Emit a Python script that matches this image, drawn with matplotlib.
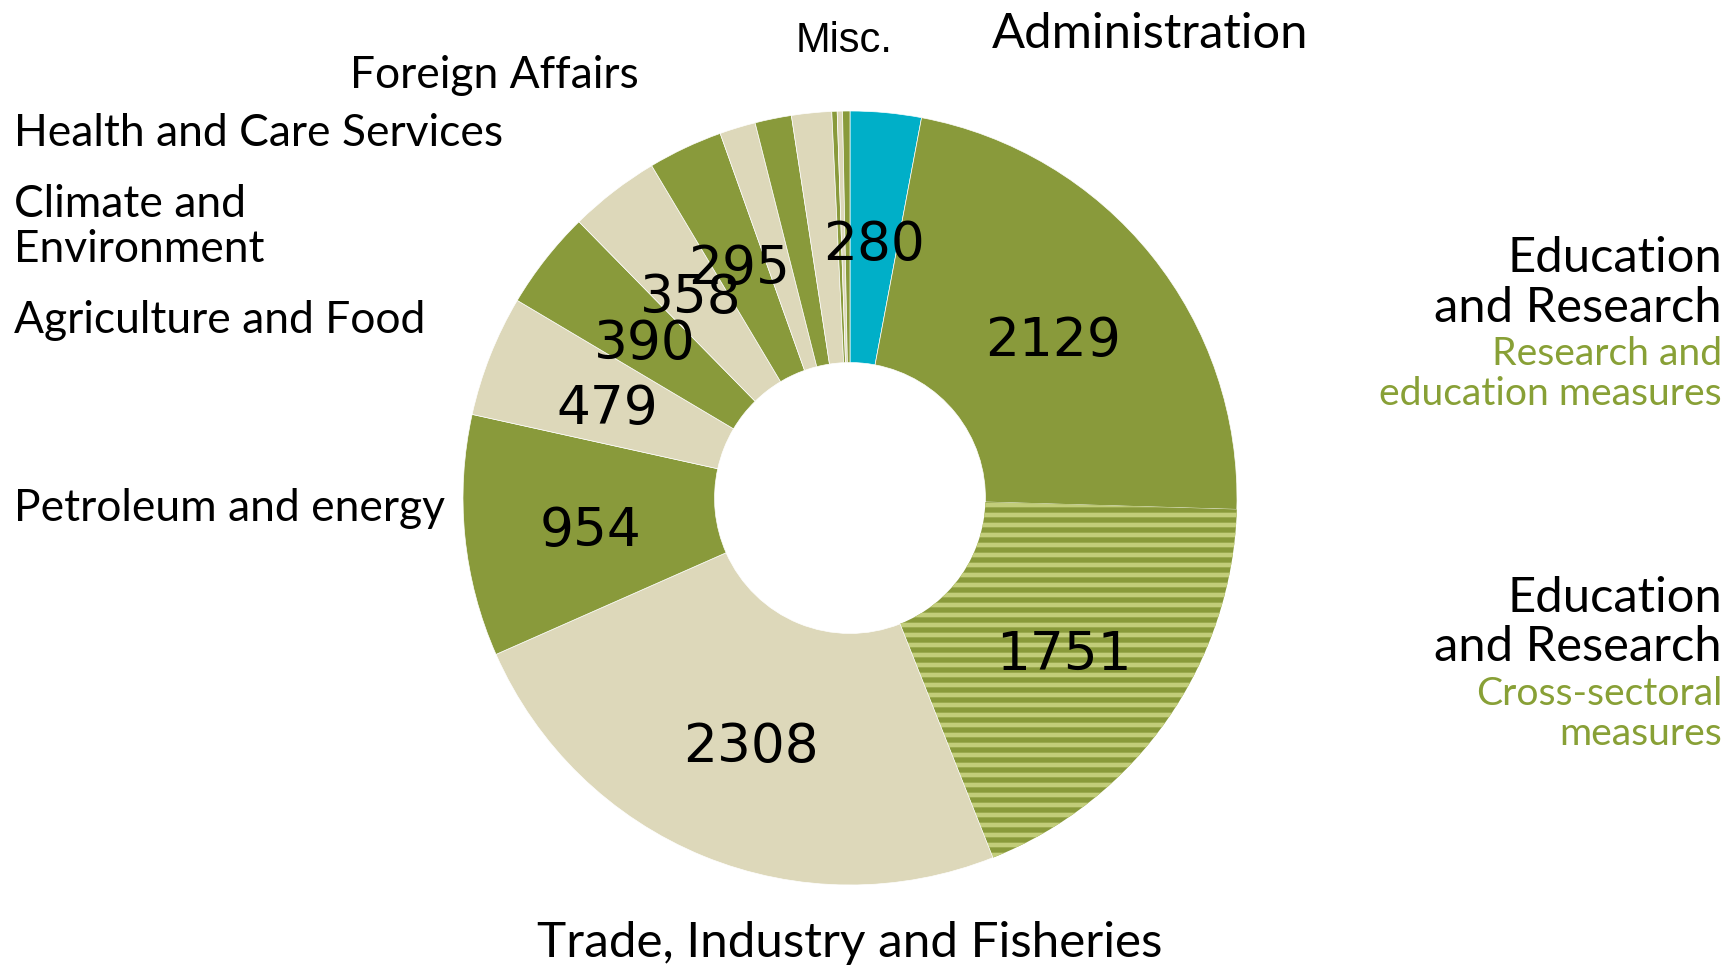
import matplotlib.pyplot as plt
import matplotlib.transforms as mtransforms
import numpy as np

W, H, DPI = 1727, 966, 120

# slices clockwise from 12 o'clock
values = [280, 2129, 1751, 2308, 954, 479, 390, 358, 295, 142, 144, 158, 21, 21, 29]
value_labels = ['280', '2129', '1751', '2308', '954', '479', '390', '358', '295',
                '', '', '', '', '', '']
kinds = ['admin', 'olive', 'hatch', 'beige', 'olive', 'beige', 'olive', 'beige',
         'olive', 'beige', 'olive', 'beige', 'olive', 'beige', 'olive']

left_labels = ['Foreign Affairs', 'Health and Care Services', 'Climate and',
               'Environment', 'Agriculture and Food', 'Petroleum and energy']

olive = '#899a3b'
beige = '#ddd8ba'
cyan = '#00afc8'
stripe = '#c2cd7a'
green_txt = '#88a036'
palette = {'admin': cyan, 'olive': olive, 'hatch': olive, 'beige': beige}

plt.rcParams['hatch.linewidth'] = 2.8
LAB = 'Lato'

fig = plt.figure(figsize=(W / DPI, H / DPI), dpi=DPI)
cx, cy, R = 850, 498, 387
ax = fig.add_axes([(cx - R) / W, 1 - (cy + R) / H, 2 * R / W, 2 * R / H])

wedges, _ = ax.pie(values, colors=[palette[k] for k in kinds], startangle=90,
                   counterclock=False, radius=1,
                   wedgeprops=dict(width=0.65, linewidth=0.4, edgecolor='white'))
for w, k in zip(wedges, kinds):
    if k == 'hatch':
        w.set_hatch('--')
        w.set_edgecolor(stripe)
        w.set_linewidth(0)

# nudge numbers down a little so the digits sit centred on the radius
num_tr = mtransforms.offset_copy(ax.transData, fig=fig, x=0, y=-7, units='dots')
for w, lab in zip(wedges, value_labels):
    if not lab:
        continue
    t = np.deg2rad((w.theta1 + w.theta2) / 2)
    ax.text(0.675 * np.cos(t), 0.675 * np.sin(t), lab, ha='center', va='center',
            fontsize=32, family='DejaVu Sans', color='black', transform=num_tr)
ax.set_xlim(-1, 1)
ax.set_ylim(-1, 1)
ax.axis('off')


def put(x, y, s, size, ha='left', color='black', family=LAB):
    fig.text(x / W, 1 - y / H, s, fontsize=size, ha=ha, va='baseline',
             color=color, family=family)


# left-hand labels
left_base = [88, 146, 217, 262, 333, 521]
for s, y in zip(left_labels, left_base):
    x = 350 if s == 'Foreign Affairs' else 14
    put(x, y, s, 26.6)

put(844, 52, 'Misc.', 25, ha='center', family='Liberation Sans')
put(1150, 48, 'Administration', 29.3, ha='center')
put(850, 957, 'Trade, Industry and Fisheries', 29.6, ha='center')

# right-hand labels
xr = 1722
put(xr, 272, 'Education', 29.3, ha='right')
put(xr, 322, 'and Research', 29.3, ha='right')
put(xr, 365, 'Research and', 23.5, ha='right', color=green_txt)
put(xr, 405, 'education measures', 23.5, ha='right', color=green_txt)
put(xr, 612, 'Education', 29.3, ha='right')
put(xr, 661, 'and Research', 29.3, ha='right')
put(xr, 705, 'Cross-sectoral', 23.5, ha='right', color=green_txt)
put(xr, 745, 'measures', 23.5, ha='right', color=green_txt)

fig.savefig('out.png', dpi=DPI)
